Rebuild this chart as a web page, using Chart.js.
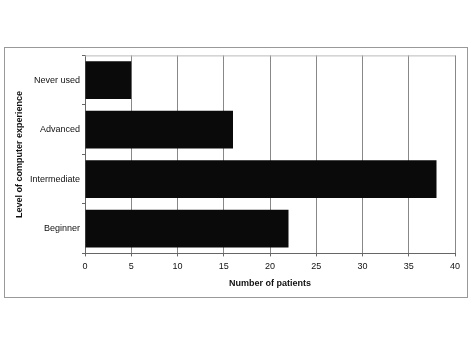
<!DOCTYPE html>
<html>
<head>
<meta charset="utf-8">
<script src="https://cdn.jsdelivr.net/npm/chart.js@4"></script>
<style>
  html, body { margin: 0; padding: 0; background: #fff; }
  #frame {
    position: absolute; left: 4px; top: 47px;
    width: 462px; height: 249px;
    border: 1px solid #999;
  }
</style>
</head>
<body>
<div id="frame"><canvas id="Chart" width="462" height="249"></canvas></div>
<script>
    var categories = ['Never used', 'Advanced', 'Intermediate', 'Beginner'];
    var patients = [5, 16, 38, 22];
    var xTicks = [0, 5, 10, 15, 20, 25, 30, 35, 40];

    // thin line along the top of the plot area
    var topLine = {
        id: 'topLine',
        afterDraw: function (chart) {
            var a = chart.chartArea, ctx = chart.ctx;
            ctx.save();
            ctx.strokeStyle = '#bbb';
            ctx.lineWidth = 1;
            ctx.beginPath();
            ctx.moveTo(a.left, a.top + 0.5);
            ctx.lineTo(a.right, a.top + 0.5);
            ctx.stroke();
            ctx.restore();
        }
    };

    Chart.defaults.font.family = '"Liberation Sans", Arial, sans-serif';
    Chart.defaults.font.size = 9;
    Chart.defaults.color = '#111';

    new Chart(document.getElementById('Chart').getContext('2d'), {
        type: 'bar',
        data: {
            labels: categories,
            datasets: [{
                data: patients,
                backgroundColor: '#0a0a0a',
                borderWidth: 0,
                barPercentage: 0.76,
                categoryPercentage: 1
            }]
        },
        plugins: [topLine],
        options: {
            responsive: false,
            animation: false,
            indexAxis: 'y',
            layout: { padding: { left: 5, right: 12, top: 5, bottom: 4 } },
            scales: {
                x: {
                    min: 0,
                    max: 40,
                    afterBuildTicks: function (axis) {
                        axis.ticks = xTicks.map(function (v) { return { value: v }; });
                    },
                    grid: {
                        color: '#888',
                        tickLength: 3,
                        tickColor: '#666'
                    },
                    border: { color: '#666' },
                    ticks: { padding: 5, maxRotation: 0 },
                    title: {
                        display: true,
                        text: 'Number of patients',
                        font: { weight: 'bold', size: 9 },
                        padding: { top: 1, bottom: 4 }
                    }
                },
                y: {
                    grid: {
                        drawOnChartArea: false,
                        tickLength: 3,
                        tickColor: '#666'
                    },
                    border: { color: '#666' },
                    ticks: { padding: 2 },
                    title: {
                        display: true,
                        text: 'Level of computer experience',
                        font: { weight: 'bold', size: 9 },
                        padding: { top: 4, bottom: 4 }
                    },
                    afterFit: function (axis) { axis.width = 75; }
                }
            },
            plugins: {
                legend: { display: false },
                tooltip: { enabled: false }
            }
        }
    });
</script>
</body>
</html>
